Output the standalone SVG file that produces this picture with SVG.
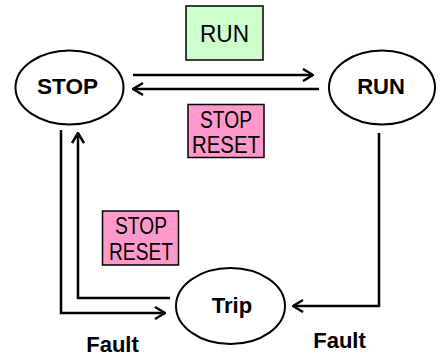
<svg xmlns="http://www.w3.org/2000/svg" width="441" height="358" viewBox="0 0 441 358">
<style>
.node ellipse{fill:#fff;stroke:#000;stroke-width:2}
.lbl{font-family:"Liberation Sans",Arial,sans-serif;font-weight:bold;font-size:22px;text-anchor:middle;fill:#000}
.box{stroke:#000;stroke-width:1.5}
.bt{font-family:"Liberation Sans",Arial,sans-serif;font-size:24px;text-anchor:middle;fill:#000}
.edge{fill:none;stroke:#000;stroke-width:2.5;marker-end:url(#ah)}
</style>
<defs>
<marker id="ah" viewBox="0 0 12 14" refX="11" refY="7" markerWidth="12" markerHeight="14" markerUnits="userSpaceOnUse" orient="auto">
<path d="M1,1 L11,7 L1,13" fill="none" stroke="#000" stroke-width="2.5"/>
</marker>
</defs>
<g id="connectors">
<path class="edge" d="M133,75 H313"/>
<path class="edge" d="M319,89 H133"/>
<path class="edge" d="M61,130 V313 H165"/>
<path class="edge" d="M170,298 H78 V133"/>
<path class="edge" d="M379,133 V306 H293"/>
</g>
<g id="node-stop" class="node"><ellipse cx="69.5" cy="87.5" rx="54" ry="37"/><text class="lbl" x="67.5" y="94" textLength="61" lengthAdjust="spacingAndGlyphs">STOP</text></g>
<g id="node-run" class="node"><ellipse cx="382" cy="87.5" rx="53" ry="37"/><text class="lbl" x="381" y="94">RUN</text></g>
<g id="node-trip" class="node"><ellipse cx="230.5" cy="306" rx="54.5" ry="38"/><text class="lbl" x="232" y="313">Trip</text></g>
<g id="label-run"><rect class="box" x="186" y="6" width="77" height="54" fill="#ccffcc"/><text class="bt" x="224.5" y="42" textLength="49" lengthAdjust="spacingAndGlyphs">RUN</text></g>
<g id="label-stopreset-top"><rect class="box" x="188" y="104.5" width="76" height="53" fill="#ff99cc"/><text class="bt" x="226" y="128" textLength="52" lengthAdjust="spacingAndGlyphs">STOP</text><text class="bt" x="226" y="153" textLength="68" lengthAdjust="spacingAndGlyphs">RESET</text></g>
<g id="label-stopreset-left"><rect class="box" x="102.5" y="211" width="76" height="54" fill="#ff99cc"/><text class="bt" x="141" y="234" textLength="52" lengthAdjust="spacingAndGlyphs">STOP</text><text class="bt" x="141" y="260" textLength="64" lengthAdjust="spacingAndGlyphs">RESET</text></g>
<text class="lbl" x="112.5" y="352">Fault</text>
<text class="lbl" x="339.5" y="348">Fault</text>
</svg>
